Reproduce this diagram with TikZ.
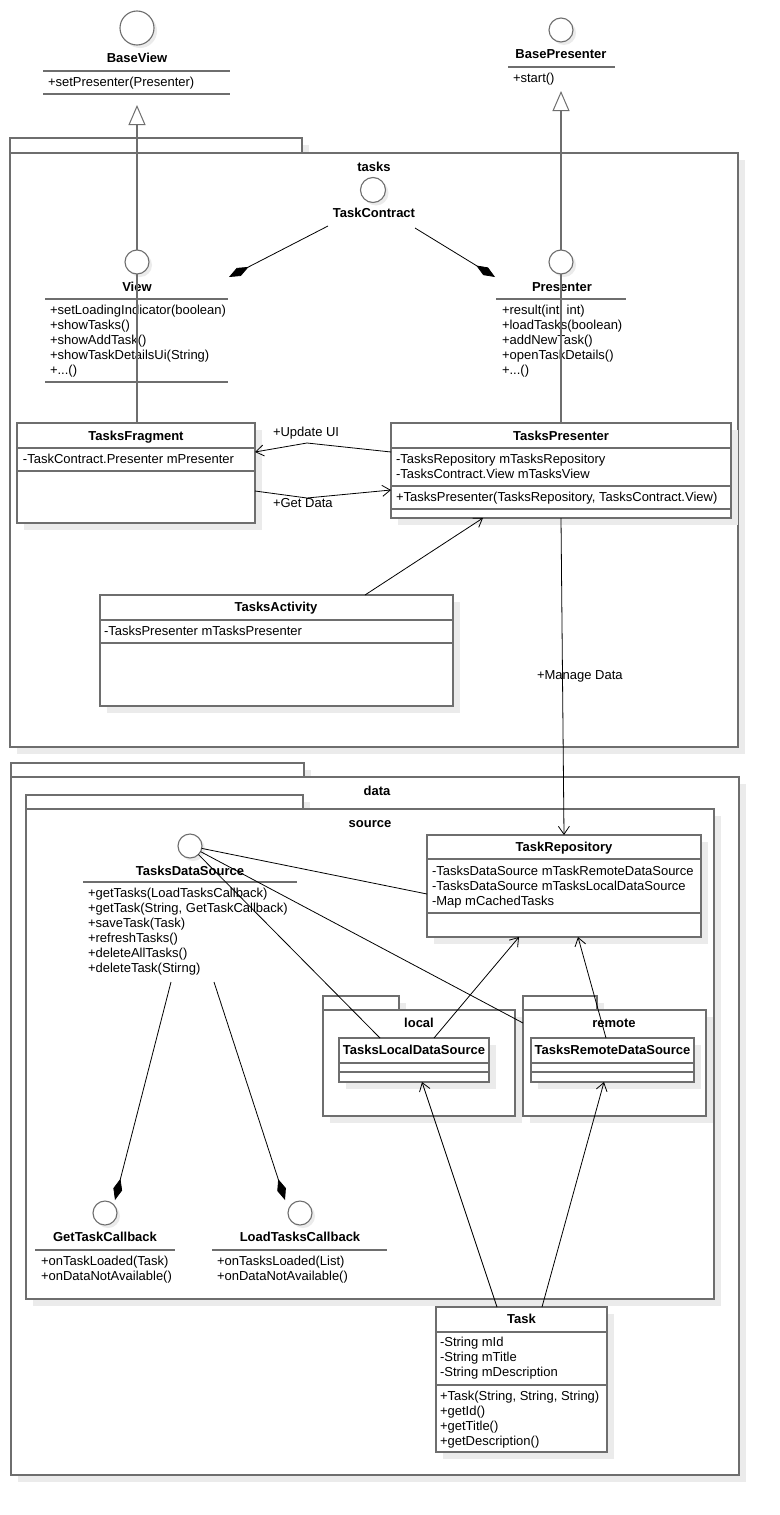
\documentclass[tikz,border=0pt]{standalone}
\usepackage{fontspec}
\setmainfont{Liberation Sans}
\usetikzlibrary{arrows.meta,calc,shadows}
\definecolor{bd}{HTML}{6E6E6E}
\definecolor{shd}{HTML}{EBEBEB}
\newcommand\tdots{...}
\tikzset{
  txt/.style={inner sep=0pt, outer sep=0pt, anchor=base west, font=\fontsize{13}{15}\selectfont},
  ttl/.style={inner sep=0pt, outer sep=0pt, anchor=base, font=\fontsize{13}{15}\selectfont\bfseries},
  lbl/.style={inner sep=0pt, outer sep=0pt, anchor=base west, font=\fontsize{13}{15}\selectfont},
  cls/.style={draw=bd, line width=1.6pt, fill=white, inner sep=0pt, outer sep=0pt, anchor=north west,
    general shadow={fill=shd, shadow xshift=7pt, shadow yshift=-7pt}},
  iface/.style={circle, draw=bd, line width=1.1pt, fill=white, inner sep=0pt, outer sep=0pt, minimum size=24pt,
    general shadow={fill=shd, shadow xshift=3pt, shadow yshift=-3pt}},
  sepline/.style={draw=bd, line width=1.6pt},
  gline/.style={draw=bd, line width=1.6pt},
  gen/.style={gline, -{Triangle[open, length=20pt, width=17pt, line width=1pt]}},
  conn/.style={draw=black, line width=0.8pt},
  dep/.style={conn, -{Straight Barb[length=8pt, width=11pt]}},
  comp/.style={conn, -{Diamond[length=22pt, width=9pt]}},
}
\newcommand\mlines[4]{%
  \foreach \t [count=\i] in {#4} {\node[txt] (#1\i) at (#2,{#3+15*(\i-1)}) {\t};}}
\begin{document}
\begin{tikzpicture}[x=1pt,y=-1pt]
\path[use as bounding box, fill=white] (0,0) rectangle (779,1515);

% ---------- top interfaces ----------
\node[iface, minimum size=34pt] (bvc) at (137,28) {};
\node[ttl] (bvn) at (137,62.5) {BaseView};
\draw[sepline] (43,71) -- (230,71);
\node[txt] (bvm) at (48,86) {+setPresenter(Presenter)};
\draw[sepline] (43,94) -- (230,94);

\node[iface] (bpc) at (561,30) {};
\node[ttl] (bpn) at (561,58) {BasePresenter};
\draw[sepline] (508,67) -- (615,67);
\node[txt] (bpm) at (513,82) {+start()};

% ---------- tasks package ----------
\node[cls, minimum width=292pt, minimum height=15pt] (tasksTab) at (10,138) {};
\node[cls, minimum width=728pt, minimum height=594pt] (tasks) at (10,153) {};
\node[ttl] (tasksName) at (374,171) {tasks};

\node[iface, minimum size=25pt] (tcc) at (373,190) {};
\node[ttl] (tcn) at (374,217.5) {TaskContract};

\node[iface] (vc) at (137,262) {};
\node[ttl] (vn) at (137,291) {View};
\draw[sepline] (45,299) -- (228,299);
\mlines{vm}{50}{314}{+setLoadingIndicator(boolean),+showTasks(),+showAddTask(),+showTaskDetailsUi(String),{+\tdots()}}
\draw[sepline] (45,382) -- (228,382);

\node[iface] (pc) at (561,262) {};
\node[ttl] (pn) at (562,291) {Presenter};
\draw[sepline] (496,299) -- (626,299);
\mlines{pm}{502}{314}{{+result(int, int)},+loadTasks(boolean),+addNewTask(),+openTaskDetails(),{+\tdots()}}

% TasksFragment
\node[cls, minimum width=238pt, minimum height=100pt] (frag) at (17,423) {};
\node[ttl] (fragn) at (136,440) {TasksFragment};
\draw[sepline] (17,448) -- (255,448);
\node[txt] (fraga) at (23,463) {-TaskContract.Presenter mPresenter};
\draw[sepline] (17,471) -- (255,471);

% TasksPresenter
\node[cls, minimum width=340pt, minimum height=95pt] (tp) at (391,423) {};
\node[ttl] (tpn) at (561,440) {TasksPresenter};
\draw[sepline] (391,448) -- (731,448);
\mlines{tpa}{396}{463}{-TasksRepository mTasksRepository,-TasksContract.View mTasksView}
\draw[sepline] (391,486) -- (731,486);
\mlines{tpm}{396}{501}{{+TasksPresenter(TasksRepository, TasksContract.View)}}
\draw[sepline] (391,509) -- (731,509);

% TasksActivity
\node[cls, minimum width=353pt, minimum height=111pt] (act) at (100,595) {};
\node[ttl] (actn) at (276,611) {TasksActivity};
\draw[sepline] (100,620) -- (453,620);
\node[txt] (acta) at (104,635) {-TasksPresenter mTasksPresenter};
\draw[sepline] (100,643) -- (453,643);

% ---------- data package ----------
\node[cls, minimum width=293pt, minimum height=14pt] (dataTab) at (11,763) {};
\node[cls, minimum width=728pt, minimum height=698pt] (data) at (11,777) {};
\node[ttl] (dataName) at (377,795) {data};

\node[cls, minimum width=277pt, minimum height=14pt] (srcTab) at (26,795) {};
\node[cls, minimum width=688pt, minimum height=490pt] (src) at (26,809) {};
\node[ttl] (srcName) at (370,827) {source};

% TaskRepository
\node[cls, minimum width=274pt, minimum height=102pt] (repo) at (427,835) {};
\node[ttl] (repon) at (564,851) {TaskRepository};
\draw[sepline] (427,859) -- (701,859);
\mlines{repoa}{432}{875}{-TasksDataSource mTaskRemoteDataSource,-TasksDataSource mTasksLocalDataSource,-Map mCachedTasks}
\draw[sepline] (427,913) -- (701,913);

% TasksDataSource
\node[iface] (tdsc) at (190,846) {};
\node[ttl] (tdsn) at (190,875) {TasksDataSource};
\draw[sepline] (83,882) -- (297,882);
\mlines{tdsm}{88}{897}{+getTasks(LoadTasksCallback),{+getTask(String, GetTaskCallback)},+saveTask(Task),+refreshTasks(),+deleteAllTasks(),+deleteTask(Stirng)}

% local package
\node[cls, minimum width=76pt, minimum height=14pt] (locTab) at (323,996) {};
\node[cls, minimum width=192pt, minimum height=106pt] (loc) at (323,1010) {};
\node[ttl] (locName) at (419,1027) {local};
\node[cls, minimum width=150pt, minimum height=44pt] (lds) at (339,1038) {};
\node[ttl] (ldsn) at (414,1054) {TasksLocalDataSource};
\draw[sepline] (339,1063) -- (489,1063);
\draw[sepline] (339,1072) -- (489,1072);

% remote package
\node[cls, minimum width=74pt, minimum height=14pt] (remTab) at (523,996) {};
\node[cls, minimum width=183pt, minimum height=106pt] (rem) at (523,1010) {};
\node[ttl] (remName) at (614,1027) {remote};
\node[cls, minimum width=163pt, minimum height=44pt] (rds) at (531,1038) {};
\node[ttl] (rdsn) at (612.5,1054) {TasksRemoteDataSource};
\draw[sepline] (531,1063) -- (694,1063);
\draw[sepline] (531,1072) -- (694,1072);

% callbacks
\node[iface] (gtc) at (105,1213) {};
\node[ttl] (gtn) at (105,1241) {GetTaskCallback};
\draw[sepline] (35,1250) -- (175,1250);
\mlines{gtm}{41}{1265}{+onTaskLoaded(Task),+onDataNotAvailable()}

\node[iface] (ltc) at (300,1213) {};
\node[ttl] (ltn) at (300,1241) {LoadTasksCallback};
\draw[sepline] (212,1250) -- (387,1250);
\mlines{ltm}{217}{1265}{+onTasksLoaded(List),+onDataNotAvailable()}

% Task
\node[cls, minimum width=171pt, minimum height=145pt] (task) at (436,1307) {};
\node[ttl] (taskn) at (521.5,1323) {Task};
\draw[sepline] (436,1332) -- (607,1332);
\mlines{taska}{440}{1346}{-String mId,-String mTitle,-String mDescription}
\draw[sepline] (436,1385) -- (607,1385);
\mlines{taskm}{440}{1400}{{+Task(String, String, String)},+getId(),+getTitle(),+getDescription()}

% ---------- connectors ----------
\coordinate (bvtip) at (137,105);
\coordinate (bptip) at (561,91);
\draw[gen] (vc.north) -- (bvtip);
\draw[gen] (pc.north) -- (bptip);
\draw[gline] (vc.south) -- (vc.south |- frag.north);
\draw[gline] (pc.south) -- (pc.south |- tp.north);

\coordinate (tcL) at (328,226);
\coordinate (tcR) at (415,228);
\coordinate (vdia) at (229,277);
\coordinate (pdia) at (495,277);
\draw[comp] (tcL) -- (vdia);
\draw[comp] (tcR) -- (pdia);

\coordinate (updBend) at (307,443);
\coordinate (getBend) at (307,498);
\draw[dep] ($(tp.north west)+(0,29)$) -- (updBend) -- ($(frag.north east)+(0,29)$);
\draw[dep] ($(frag.north east)+(0,68)$) -- (getBend) -- ($(tp.north west)+(0,67)$);
\node[lbl] (updLbl) at (273,436) {+Update UI};
\node[lbl] (getLbl) at (273,507) {+Get Data};

\draw[dep] ($(act.north west)+(265,0)$) -- ($(tp.south west)+(92,0)$);
\draw[dep] ($(tp.south west)+(170,0)$) -- ($(repo.north west)+(137,0)$);
\node[lbl] (mngLbl) at (537,679) {+Manage Data};

\draw[conn] (tdsc) -- ($(repo.north west)+(0,59)$);
\draw[conn] (tdsc) -- ($(rem.north west)+(0,13)$);
\draw[conn] (tdsc) -- ($(lds.north west)+(41,0)$);

\coordinate (tdsA) at (171,982);
\coordinate (tdsB) at (214,982);
\coordinate (gdia) at (115,1200);
\coordinate (ldia) at (285,1200);
\draw[comp] (tdsA) -- (gdia);
\draw[comp] (tdsB) -- (ldia);

\draw[dep] ($(lds.north west)+(95,0)$) -- ($(repo.south west)+(92,0)$);
\draw[dep] ($(rds.north west)+(75,0)$) -- ($(repo.south west)+(151,0)$);
\draw[dep] ($(task.north west)+(61,0)$) -- ($(lds.south west)+(83,0)$);
\draw[dep] ($(task.north west)+(106,0)$) -- ($(rds.south west)+(73,0)$);
\end{tikzpicture}
\end{document}
